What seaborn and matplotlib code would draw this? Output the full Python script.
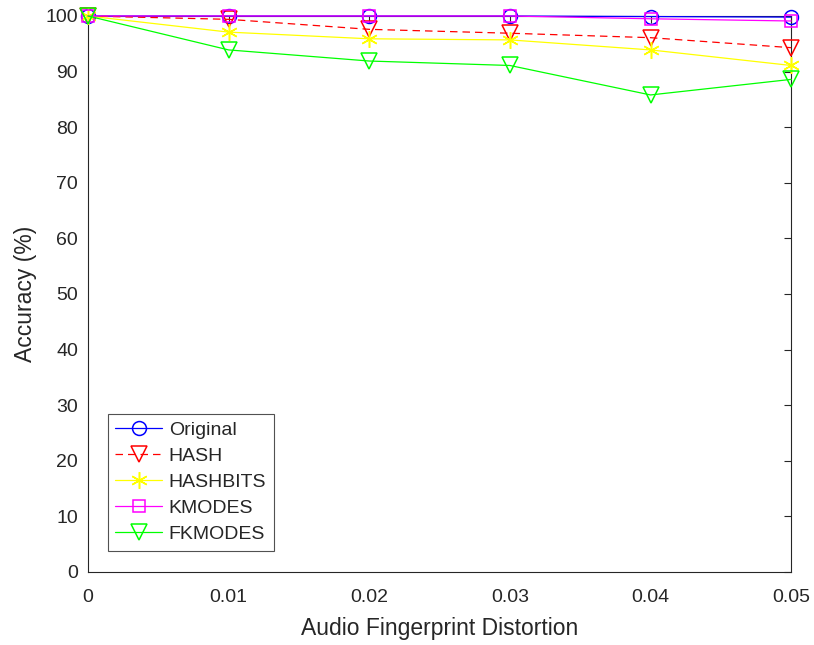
import matplotlib
matplotlib.use("Agg")
import matplotlib.pyplot as plt
import seaborn as sns
import pandas as pd

distortion = [0, 0.01, 0.02, 0.03, 0.04, 0.05]
original = [100, 100, 100, 100, 99.9, 99.8]
hash_acc = [100, 99.4, 97.6, 96.9, 96.1, 94.3]
hashbits = [100, 97.1, 95.9, 95.7, 93.9, 91.1]
kmodes = [100, 100, 100, 100, 99.5, 99.1]
fkmodes = [100, 93.9, 91.9, 91.1, 85.8, 88.6]

series_names = ["Original", "HASH", "HASHBITS", "KMODES", "FKMODES"]
series_values = [original, hash_acc, hashbits, kmodes, fkmodes]
styles = {
    "Original": dict(color=(0, 0, 1), marker="o", linestyle="-", ms=10),
    "HASH": dict(color=(1, 0, 0), marker="v", linestyle=(0, (6, 4)), ms=11),
    "HASHBITS": dict(color=(1, 1, 0), marker=(6, 2, 0), linestyle="-", ms=12),
    "KMODES": dict(color=(1, 0, 1), marker="s", linestyle="-", ms=8.5),
    "FKMODES": dict(color=(0, 1, 0), marker="v", linestyle="-", ms=11),
}

sns.set_style("white")
plt.rcParams["font.family"] = ["Liberation Sans", "DejaVu Sans"]

fig = plt.figure(figsize=(8.14, 6.45), dpi=100)
ax = fig.add_axes([0.108, 0.1132, 0.864, 0.8620])

for name, vals in zip(series_names, series_values):
    st = styles[name]
    df = pd.DataFrame({"x": distortion, "y": vals})
    sns.lineplot(data=df, x="x", y="y", ax=ax, color=st["color"],
                 marker=st["marker"], linestyle=st["linestyle"],
                 markersize=st["ms"],
                 markerfacecolor="none", markeredgecolor=st["color"],
                 markeredgewidth=1.1, linewidth=0.9, label=name,
                 clip_on=False, zorder=3)

axis_col = "#262626"
ax.set_xlim(0, 0.05)
ax.set_ylim(0, 100)
ax.set_xticks(distortion)
ax.set_xticklabels(["0", "0.01", "0.02", "0.03", "0.04", "0.05"])
ax.set_yticks(range(0, 101, 10))
ax.tick_params(direction="in", length=5, width=0.8, colors=axis_col,
               labelsize=14, top=True, right=True)
ax.tick_params(axis="x", pad=12)
ax.tick_params(axis="y", pad=7)
for sp in ax.spines.values():
    sp.set_color(axis_col)
    sp.set_linewidth(0.8)
ax.set_xlabel("Audio Fingerprint Distortion", fontsize=16.5, color=axis_col, labelpad=8)
ax.set_ylabel("Accuracy (%)", fontsize=16.5, color=axis_col, labelpad=6)

leg = ax.legend(loc="lower left", bbox_to_anchor=(0.028, 0.038), fontsize=14,
                frameon=True, fancybox=False, edgecolor=axis_col,
                handlelength=2.4, borderpad=0.4, labelspacing=0.43,
                handletextpad=0.35, borderaxespad=0)
leg.get_frame().set_linewidth(0.8)

fig.savefig("out.png", dpi=100)
